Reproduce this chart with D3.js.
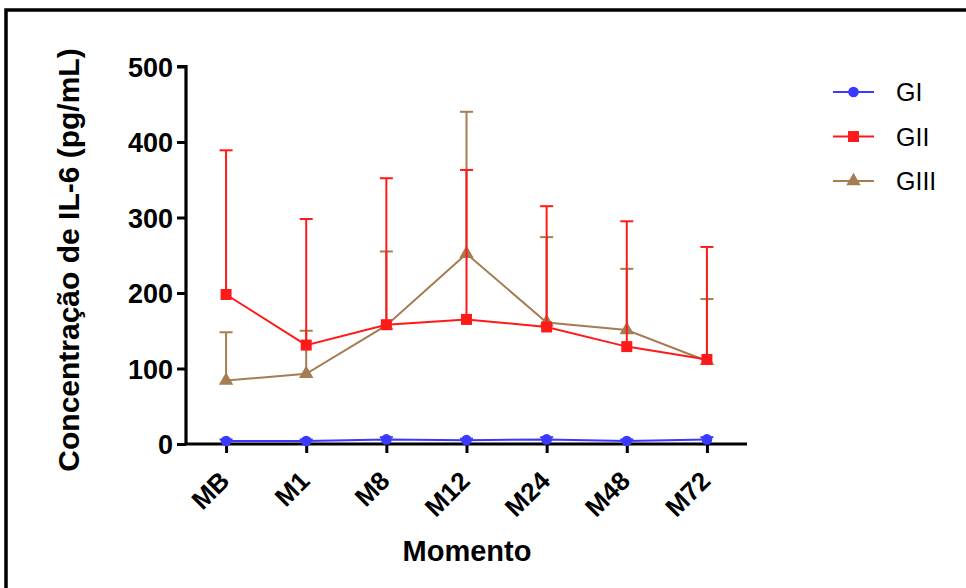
<!DOCTYPE html>
<html><head><meta charset="utf-8">
<script src="https://cdn.jsdelivr.net/npm/d3@7"></script>
<style>body{margin:0;background:#fff;}svg{display:block;}</style>
</head><body>
<svg id="c" width="966" height="588"></svg>
<script>
const categories = ["MB","M1","M8","M12","M24","M48","M72"];
const yTicks = [0,100,200,300,400,500];
const seriesNames = ["GI","GII","GIII"];
const giMean = [4,4,6,5,6,4,6];
const giSD = [2,2,3,2,3,2,3];
const giiMean = [198,131,158,165,155,129,112];
const giiSD = [191,167,194,198,160,166,149];
const giiiMean = [84,93,157,252,161,151,110];
const giiiSD = [64,57,98,188,113,81,82];
const colors = ["#3a3aff","#ff1a1a","#a67c52"];
const symbols = [d3.symbolCircle, d3.symbolSquare, d3.symbolTriangle];
const symSizes = [90, 121, 90];

const svg = d3.select("#c");
const font = "'Liberation Sans', Arial, sans-serif";

// frame
svg.append("rect").attr("x",6).attr("y",10).attr("width",1000).attr("height",1000)
  .attr("fill","none").attr("stroke","#000").attr("stroke-width",3.5);

const x = d3.scalePoint().domain(categories).range([186,747]).padding(0.5);
const y = d3.scaleLinear().domain([0,500]).range([444,66.5]);

// axes
const yAxis = d3.axisLeft(y).tickValues(yTicks).tickSize(9).tickPadding(4);
const gy = svg.append("g").attr("transform","translate(186,0)").call(yAxis);
gy.select(".domain").attr("d","M-9,"+y(500)+"H0V"+y(0)).attr("stroke-width",3.2);
gy.selectAll(".tick line").attr("stroke-width",3);
gy.selectAll(".tick text").attr("font-family",font).attr("font-weight","bold").attr("font-size",27).attr("fill","#000").attr("dy","0.36em");

const xAxis = d3.axisBottom(x).tickSize(9).tickSizeOuter(0).tickPadding(6);
const gx = svg.append("g").attr("transform","translate(0,444)").call(xAxis);
gx.select(".domain").attr("d","M186,0H747").attr("stroke-width",3.2);
gx.selectAll(".tick line").attr("stroke-width",3);
gx.selectAll(".tick text").attr("font-family",font).attr("font-weight","bold").attr("font-size",26).attr("fill","#000")
  .attr("text-anchor","end").attr("transform","translate(-19,15) rotate(-45)").attr("dy","0.7em");

// titles
svg.append("text").attr("transform","translate(79,260) rotate(-90)").attr("text-anchor","middle")
  .attr("font-family",font).attr("font-weight","bold").attr("font-size",30).text("Concentração de IL-6 (pg/mL)");
svg.append("text").attr("x",467).attr("y",561).attr("text-anchor","middle")
  .attr("font-family",font).attr("font-weight","bold").attr("font-size",29).text("Momento");

const series = [
  {name:seriesNames[0], mean:giMean, sd:giSD},
  {name:seriesNames[1], mean:giiMean, sd:giiSD},
  {name:seriesNames[2], mean:giiiMean, sd:giiiSD}
];
const line = d3.line().x((d,i)=>x(categories[i])).y(d=>y(d));
const order = [2,1,0];
order.forEach(si=>{
  const s = series[si]; const col = colors[si];
  const g = svg.append("g");
  // error bars (upper)
  s.mean.forEach((m,i)=>{
    const cx = x(categories[i]), top = y(m + s.sd[i]);
    g.append("line").attr("x1",cx).attr("x2",cx).attr("y1",y(m)).attr("y2",top).attr("stroke",col).attr("stroke-width",2);
    g.append("line").attr("x1",cx-6.5).attr("x2",cx+6.5).attr("y1",top).attr("y2",top).attr("stroke",col).attr("stroke-width",2);
  });
  g.append("path").attr("d",line(s.mean)).attr("fill","none").attr("stroke",col).attr("stroke-width",2);
  g.selectAll(".m").data(s.mean).join("path")
    .attr("transform",(d,i)=>`translate(${x(categories[i])},${y(d)})`)
    .attr("d",d3.symbol().type(symbols[si]).size(symSizes[si])).attr("fill",col);
});

// legend
const lg = svg.append("g");
series.forEach((s,i)=>{
  const ly = 92 + i*44.5;
  lg.append("line").attr("x1",833).attr("x2",874).attr("y1",ly).attr("y2",ly).attr("stroke",colors[i]).attr("stroke-width",2);
  lg.append("path").attr("transform",`translate(853.5,${ly})`).attr("d",d3.symbol().type(symbols[i]).size(symSizes[i])).attr("fill",colors[i]);
  lg.append("text").attr("x",896).attr("y",ly).attr("dy","0.36em").attr("font-family",font).attr("font-size",25).text(s.name);
});
</script>
</body></html>
